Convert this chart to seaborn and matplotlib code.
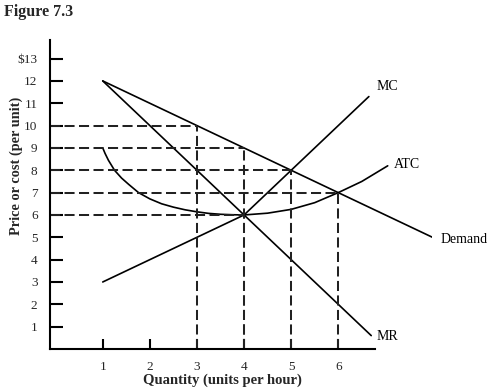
import pandas as pd
import matplotlib
matplotlib.use("Agg")
import matplotlib.pyplot as plt
import seaborn as sns

# --- data ---
demand_q = [1, 8.1]
demand_p = [12, 4.9]

mr_q = [1, 6.7]
mr_p = [12, 0.6]

mc_q = [1, 4, 6.65]
mc_p = [3, 6, 11.3]

atc_q = [1, 1.05, 1.12, 1.25, 1.4, 1.55, 1.76, 2, 2.25, 2.5, 2.75, 3, 3.25, 3.5,
         3.75, 4, 4.5, 5, 5.5, 6, 6.5, 7.05]
atc_p = [9, 8.75, 8.45, 8.0, 7.65, 7.37, 7.0, 6.72, 6.5, 6.35, 6.23, 6.14, 6.07, 6.03,
         6.01, 6.0, 6.08, 6.25, 6.55, 7.0, 7.5, 8.2]

# dashed guides: (quantity, price) corners
guide_q = [3, 4, 5, 6, 4]
guide_p = [10, 9, 8, 7, 6]

x_ticks = [1, 2, 3, 4, 5, 6]
y_ticks = list(range(1, 14))
y_tick_labels = [str(v) for v in y_ticks[:-1]] + ["$13"]

sns.set_style("white")
plt.rcParams['font.family'] = ['Liberation Serif', 'DejaVu Serif']

fig = plt.figure(figsize=(4.95, 3.9), dpi=100)
x_left = -0.12
ax = fig.add_axes([50 / 495, 41 / 390, 8.12 * 47.1 / 495, 14.0 * 22.34 / 390])
ax.set_xlim(x_left, 8.0)
ax.set_ylim(0, 14.0)

line_kw = dict(color='black', linewidth=1.2, estimator=None, sort=False, ax=ax)
curves = {
    'Demand': (demand_q, demand_p),
    'MR': (mr_q, mr_p),
    'MC': (mc_q, mc_p),
    'ATC': (atc_q, atc_p),
}
for name, (q, p) in curves.items():
    df = pd.DataFrame({'q': q, 'p': p})
    sns.lineplot(data=df, x='q', y='p', **line_kw)

# dashed helper lines
for q, p in zip(guide_q, guide_p):
    ax.plot([x_left, q], [p, p], color='#222222', lw=1.45, dashes=(5, 2.2), clip_on=False)
    ax.plot([q, q], [0, p], color='#222222', lw=1.45, dashes=(5, 2.2), clip_on=False)

# curve labels
lab_kw = dict(fontsize=10, color='black', va='center')
ax.text(8.17, demand_p[-1], 'Demand', ha='left', **lab_kw)
ax.text(6.82, 0.55, 'MR', ha='left', **lab_kw)
ax.text(7.05, 11.75, 'MC', ha='center', **lab_kw)
ax.text(7.19, 8.28, 'ATC', ha='left', **lab_kw)

# axes styling
for s in ['top', 'right']:
    ax.spines[s].set_visible(False)
ax.spines['left'].set_bounds(0, 13.83)
ax.spines['bottom'].set_bounds(x_left, 6.78)
for s in ['left', 'bottom']:
    ax.spines[s].set_linewidth(1.5)
    ax.spines[s].set_color('black')

ax.set_xticks(x_ticks)
ax.set_xticklabels([str(v) for v in x_ticks])
ax.set_yticks(y_ticks)
ax.set_yticklabels(y_tick_labels)
ax.tick_params(axis='y', left=True, direction='in', length=9, width=1.5,
               color='black', labelsize=9.5, pad=9)
ax.tick_params(axis='x', bottom=True, direction='in', length=7, width=1.5,
               color='black', labelsize=9.5, pad=9)

ax.set_xlabel('')
ax.set_ylabel('')
fig.text(222 / 495, 1 - 380 / 390, 'Quantity (units per hour)', ha='center', va='center',
         fontsize=10.5, fontweight='bold')
fig.text(16 / 495, 1 - 166 / 390, 'Price or cost (per unit)', ha='center', va='center',
         rotation=90, fontsize=10.3, fontweight='bold')
fig.text(4 / 495, 1 - 12 / 390, 'Figure 7.3', ha='left', va='center',
         fontsize=11.5, fontweight='bold')

fig.savefig('out.png', dpi=100)
